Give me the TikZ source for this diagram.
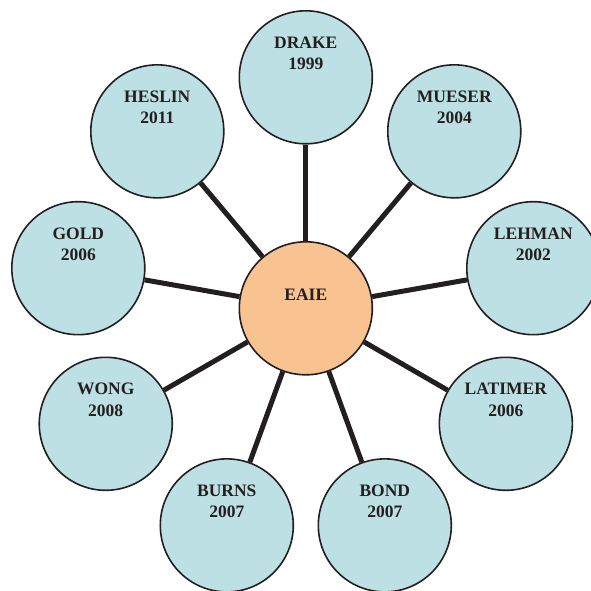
\documentclass[tikz,border=0pt]{standalone}
\usepackage{fontspec}
\setmainfont{Liberation Serif}
\usepackage{xcolor}
\definecolor{bubblue}{HTML}{BDE0E4}
\definecolor{hubor}{HTML}{F8C291}
\definecolor{inkdark}{HTML}{231F20}

\begin{document}
\begin{tikzpicture}[x=1pt,y=1pt,
  bubble/.style={circle,draw=inkdark,line width=1.6pt,fill=bubblue,minimum size=133pt,inner sep=0pt},
  hub/.style={bubble,fill=hubor},
  bubtext/.style={font=\bfseries\fontsize{17.5}{21.6}\selectfont,text=inkdark,align=center},
  spoke/.style={draw=inkdark,line width=5pt}]
\useasboundingbox (-305.8,308.3) rectangle (285.2,-281.7);
\node [hub] (eaie) at (0,0) {};
\node [bubtext] at ([yshift=14pt]eaie.center) {EAIE};
\foreach \ang/\nm/\who/\yr in {90/drake/DRAKE/1999, 50/mueser/MUESER/2004,
    10/lehman/LEHMAN/2002, -30/latimer/LATIMER/2006, -70/bond/BOND/2007,
    -110/burns/BURNS/2007, -150/wong/WONG/2008, 170/gold/GOLD/2006,
    130/heslin/HESLIN/2011}
{
  \node [bubble] (\nm) at (\ang:231pt) {};
  \node [bubtext] at ([yshift=24pt]\nm.center) {\who\\\yr};
  \draw [spoke] (eaie) -- (\nm);
}
\end{tikzpicture}
\end{document}
